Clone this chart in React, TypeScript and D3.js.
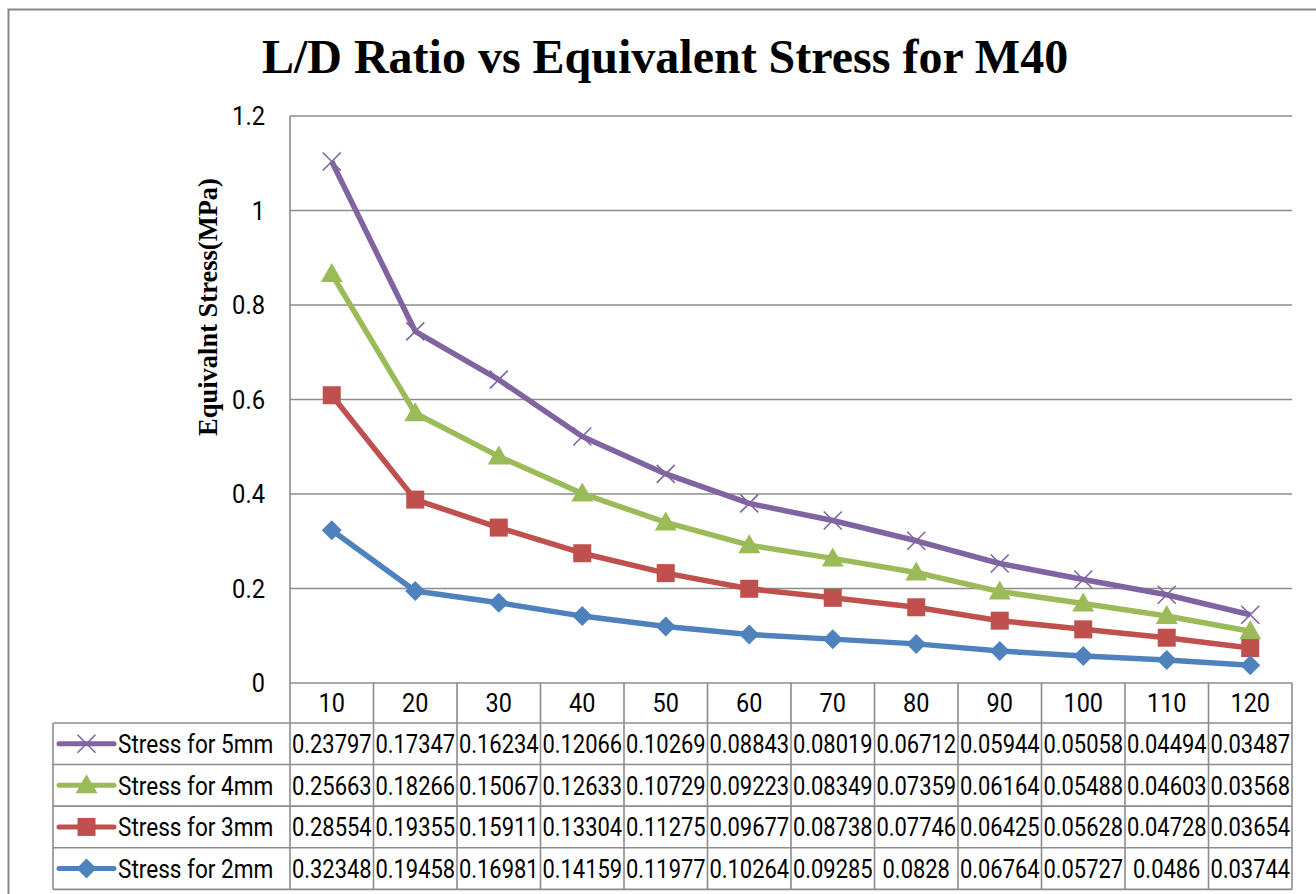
import React, { useEffect } from "react";
import * as d3 from "d3";

const categories = ["10", "20", "30", "40", "50", "60", "70", "80", "90", "100", "110", "120"];
const stress5 = [0.23797, 0.17347, 0.16234, 0.12066, 0.10269, 0.08843, 0.08019, 0.06712, 0.05944, 0.05058, 0.04494, 0.03487];
const stress4 = [0.25663, 0.18266, 0.15067, 0.12633, 0.10729, 0.09223, 0.08349, 0.07359, 0.06164, 0.05488, 0.04603, 0.03568];
const stress3 = [0.28554, 0.19355, 0.15911, 0.13304, 0.11275, 0.09677, 0.08738, 0.07746, 0.06425, 0.05628, 0.04728, 0.03654];
const stress2 = [0.32348, 0.19458, 0.16981, 0.14159, 0.11977, 0.10264, 0.09285, 0.0828, 0.06764, 0.05727, 0.0486, 0.03744];
const tableText5 = ["0.23797", "0.17347", "0.16234", "0.12066", "0.10269", "0.08843", "0.08019", "0.06712", "0.05944", "0.05058", "0.04494", "0.03487"];
const tableText4 = ["0.25663", "0.18266", "0.15067", "0.12633", "0.10729", "0.09223", "0.08349", "0.07359", "0.06164", "0.05488", "0.04603", "0.03568"];
const tableText3 = ["0.28554", "0.19355", "0.15911", "0.13304", "0.11275", "0.09677", "0.08738", "0.07746", "0.06425", "0.05628", "0.04728", "0.03654"];
const tableText2 = ["0.32348", "0.19458", "0.16981", "0.14159", "0.11977", "0.10264", "0.09285", "0.0828", "0.06764", "0.05727", "0.0486", "0.03744"];
const yTicks = [0, 0.2, 0.4, 0.6, 0.8, 1, 1.2];

const seriesDefs = [
  { key: "s2", name: "Stress for 2mm", values: stress2, text: tableText2, color: "#4F81BD", marker: "diamond" },
  { key: "s3", name: "Stress for 3mm", values: stress3, text: tableText3, color: "#C0504D", marker: "square" },
  { key: "s4", name: "Stress for 4mm", values: stress4, text: tableText4, color: "#9BBB59", marker: "triangle" },
  { key: "s5", name: "Stress for 5mm", values: stress5, text: tableText5, color: "#8064A2", marker: "x" },
];

const W = 1316, H = 894;
const plot = { left: 290, right: 1292, top: 116, bottom: 683 };
const rowH = 41.6;
const tableLeft = 53;
const grid = "#8c8c8c";
const numFont = "Roboto, 'Liberation Sans', sans-serif";
const serif = "'Liberation Serif', 'Times New Roman', serif";
const FS = 26;

// Calibri-like advance widths (em) so the text keeps the reference's narrow widths
const adv: Record<string, number> = {
  "0": 0.507, "1": 0.507, "2": 0.507, "3": 0.507, "4": 0.507, "5": 0.507, "6": 0.507, "7": 0.507, "8": 0.507, "9": 0.507,
  ".": 0.252, S: 0.459, t: 0.335, r: 0.349, e: 0.498, s: 0.391, " ": 0.226, f: 0.305, o: 0.527, m: 0.799,
};
const textW = (str: string, size: number) => str.split("").reduce((a, ch) => a + (adv[ch] ?? 0.5), 0) * size;

function NText(props: any) {
  const { children, size = FS, squeeze = 1, ...rest } = props;
  const str = String(children);
  return (
    <text fontSize={size} textLength={textW(str, size) * squeeze} lengthAdjust="spacingAndGlyphs" fill="#000" {...rest}>
      {str}
    </text>
  );
}

function Marker({ type, x, y, color }: { type: string; x: number; y: number; color: string }) {
  if (type === "diamond") {
    const r = 10;
    return <path d={`M${x},${y - r}L${x + r},${y}L${x},${y + r}L${x - r},${y}Z`} fill={color} />;
  }
  if (type === "square") {
    const s = 9;
    return <rect x={x - s} y={y - s} width={2 * s} height={2 * s} fill={color} />;
  }
  if (type === "triangle") {
    return <path d={`M${x},${y - 11}L${x + 11},${y + 8}L${x - 11},${y + 8}Z`} fill={color} />;
  }
  const s = 9;
  return (
    <g stroke={color} strokeWidth={1.6}>
      <line x1={x - s} y1={y - s} x2={x + s} y2={y + s} />
      <line x1={x - s} y1={y + s} x2={x + s} y2={y - s} />
    </g>
  );
}

export default function App() {
  useEffect(() => {
    document.body.style.margin = "0";
  }, []);

  const x = d3.scaleBand<string>().domain(categories).range([plot.left, plot.right]).padding(0);
  const bw = x.bandwidth();
  const cx = (c: string) => (x(c) as number) + bw / 2;
  const y = d3.scaleLinear().domain([0, 1.2]).range([plot.bottom, plot.top]);

  const rows = categories.map((c, i) => {
    const o: any = { cat: c };
    seriesDefs.forEach((s) => (o[s.key] = s.values[i]));
    return o;
  });
  const stack = d3.stack<any>().keys(seriesDefs.map((s) => s.key))(rows);
  const line = d3
    .line<any>()
    .x((d) => cx(d.data.cat))
    .y((d) => y(d[1]));

  const drawOrder = [3, 2, 1, 0];
  const tableOrder = [3, 2, 1, 0];
  const tableTop = plot.bottom + rowH * 0.96;
  const tableBottom = tableTop + rowH * 4;

  return (
    <svg width={W} height={H} style={{ display: "block" }} fontFamily={numFont}>
      <rect x={0} y={0} width={W} height={H} fill="#fff" />
      <rect x={8.5} y={9.5} width={W + 10} height={H + 10} fill="none" stroke="#878787" strokeWidth={2} />
      <text x={665} y={73} textAnchor="middle" fontFamily={serif} fontWeight="bold" fontSize={48} fill="#000">
        L/D Ratio vs Equivalent Stress for M40
      </text>
      <text
        transform={`translate(217,307) rotate(-90)`}
        textAnchor="middle"
        fontFamily={serif}
        fontWeight="bold"
        fontSize={26.5}
        fill="#000"
      >
        Equivalnt Stress(MPa)
      </text>
      {yTicks.map((t) => (
        <line key={t} x1={plot.left} x2={plot.right} y1={y(t)} y2={y(t)} stroke={grid} strokeWidth={1.6} />
      ))}
      <line x1={plot.left} x2={plot.left} y1={plot.top} y2={tableBottom} stroke={grid} strokeWidth={1.6} />
      {yTicks.map((t) => (
        <NText key={"yt" + t} x={265} y={y(t)} dy="0.36em" textAnchor="end">
          {d3.format("~g")(t)}
        </NText>
      ))}
      {categories.map((c) => (
        <line key={"v" + c} x1={(x(c) as number) + bw} x2={(x(c) as number) + bw} y1={plot.bottom} y2={tableBottom} stroke={grid} strokeWidth={1.6} />
      ))}
      {[0, 1, 2, 3, 4].map((i) => (
        <line key={"h" + i} x1={tableLeft} x2={plot.right} y1={tableTop + i * rowH} y2={tableTop + i * rowH} stroke={grid} strokeWidth={1.6} />
      ))}
      <line x1={tableLeft} x2={tableLeft} y1={tableTop} y2={tableBottom} stroke={grid} strokeWidth={1.6} />
      {categories.map((c) => (
        <NText key={"xl" + c} x={cx(c)} y={(plot.bottom + tableTop) / 2} dy="0.36em" textAnchor="middle">
          {c}
        </NText>
      ))}
      {tableOrder.map((si, r) => {
        const s = seriesDefs[si];
        const my = tableTop + r * rowH + rowH / 2;
        return (
          <g key={"row" + s.key}>
            <line x1={59} x2={114} y1={my} y2={my} stroke={s.color} strokeWidth={5} strokeLinecap="round" />
            <Marker type={s.marker} x={86.5} y={my} color={s.color} />
            <NText x={118} y={my} dy="0.36em" squeeze={0.97}>
              {s.name}
            </NText>
            {categories.map((c, i) => (
              <NText key={c} x={cx(c)} y={my} dy="0.36em" textAnchor="middle" squeeze={0.93}>
                {s.text[i]}
              </NText>
            ))}
          </g>
        );
      })}
      {drawOrder.map((si) => {
        const s = seriesDefs[si];
        const layer = stack[si];
        return (
          <g key={"ln" + s.key}>
            <path d={line(layer as any) || ""} fill="none" stroke={s.color} strokeWidth={5.5} strokeLinejoin="round" />
            {layer.map((d: any) => (
              <Marker key={d.data.cat} type={s.marker} x={cx(d.data.cat)} y={y(d[1])} color={s.color} />
            ))}
          </g>
        );
      })}
    </svg>
  );
}
